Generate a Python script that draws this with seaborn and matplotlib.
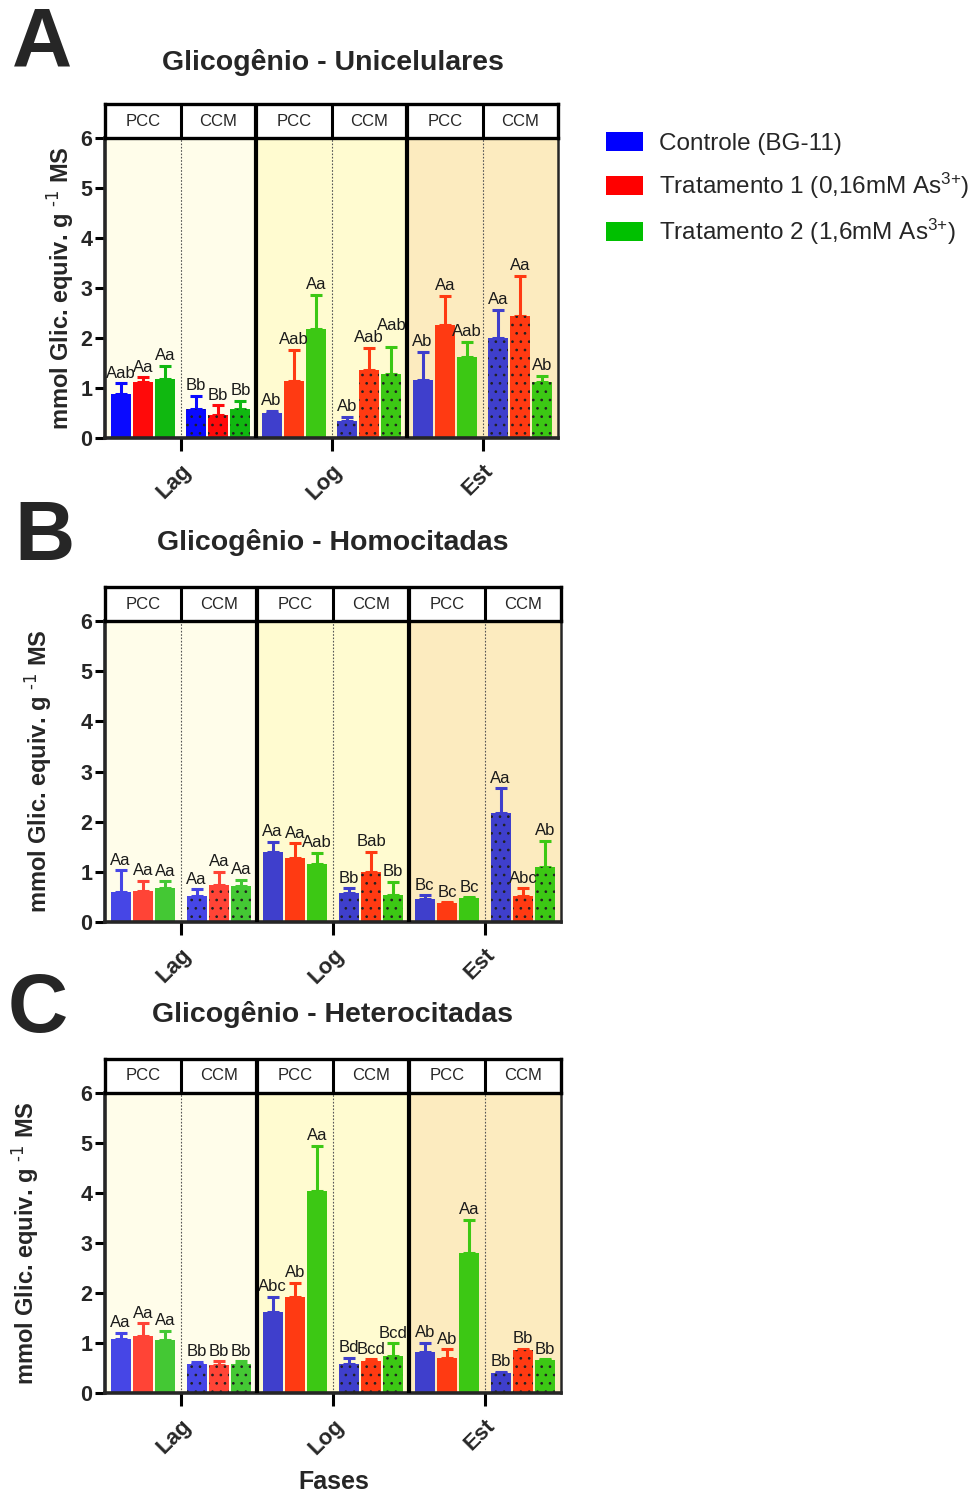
import numpy as np
import pandas as pd
import matplotlib
matplotlib.use("Agg")
import matplotlib.pyplot as plt
import seaborn as sns
from matplotlib.patches import Patch

# ---------------- data ----------------
phases = ["Lag", "Log", "Est"]
conditions = ["PCC", "CCM"]
treatments = ["Controle (BG-11)",
              "Tratamento 1 (0,16mM As$^{3{+}}$)",
              "Tratamento 2 (1,6mM As$^{3{+}}$)"]
titles = ["Glicogênio - Unicelulares", "Glicogênio - Homocitadas", "Glicogênio - Heterocitadas"]
panel_letters = ["A", "B", "C"]
ylabel = r"mmol Glic. equiv. g $^{\text{-1}}$ MS"
xlabel = "Fases"

# order of groups: Lag-PCC, Lag-CCM, Log-PCC, Log-CCM, Est-PCC, Est-CCM ; each [Controle, T1, T2]
A_means = [[0.89, 1.13, 1.18], [0.58, 0.47, 0.58], [0.50, 1.15, 2.19],
           [0.35, 1.37, 1.29], [1.17, 2.27, 1.62], [2.01, 2.45, 1.12]]
A_sd = [[0.21, 0.09, 0.27], [0.27, 0.19, 0.17], [0.05, 0.62, 0.68],
        [0.08, 0.43, 0.53], [0.55, 0.58, 0.31], [0.56, 0.80, 0.13]]
A_labels = [["Aab", "Aa", "Aa"], ["Bb", "Bb", "Bb"], ["Ab", "Aab", "Aa"],
            ["Ab", "Aab", "Aab"], ["Ab", "Aa", "Aab"], ["Aa", "Aa", "Ab"]]

B_means = [[0.59, 0.61, 0.68], [0.51, 0.73, 0.71], [1.39, 1.28, 1.16],
           [0.57, 0.99, 0.54], [0.45, 0.38, 0.47], [2.18, 0.51, 1.10]]
B_sd = [[0.44, 0.21, 0.13], [0.14, 0.27, 0.13], [0.21, 0.29, 0.22],
        [0.10, 0.41, 0.26], [0.08, 0.01, 0.02], [0.49, 0.16, 0.52]]
B_labels = [["Aa", "Aa", "Aa"], ["Aa", "Aa", "Aa"], ["Aa", "Aa", "Aab"],
            ["Bb", "Bab", "Bb"], ["Bc", "Bc", "Bc"], ["Aa", "Abc", "Ab"]]

C_means = [[1.09, 1.15, 1.07], [0.58, 0.56, 0.59], [1.63, 1.92, 4.05],
           [0.59, 0.64, 0.74], [0.83, 0.71, 2.81], [0.41, 0.86, 0.67]]
C_sd = [[0.12, 0.25, 0.18], [0.04, 0.08, 0.05], [0.30, 0.29, 0.89],
        [0.11, 0.04, 0.26], [0.18, 0.17, 0.66], [0.01, 0.03, 0.01]]
C_labels = [["Aa", "Aa", "Aa"], ["Bb", "Bb", "Bb"], ["Abc", "Ab", "Aa"],
            ["Bd", "Bcd", "Bcd"], ["Ab", "Ab", "Aa"], ["Bb", "Bb", "Bb"]]

# ---------------- style ----------------
sns.set_style("ticks")
plt.rcParams["font.family"] = ["Liberation Sans", "DejaVu Sans"]
plt.rcParams["mathtext.default"] = "regular"
plt.rcParams["hatch.linewidth"] = 0.7

legend_colors = ["#0000FF", "#FF0000", "#00C000"]
phase_bg = ["#FFFDEA", "#FFFBD0", "#FCEBBF"]
bar_colors = {
    (0, 0): ["#0A0AFF", "#FF0A0A", "#10B810"],
    (1, 0): ["#4646E6", "#FF4436", "#44C834"],
    (2, 0): ["#4646E6", "#FF4436", "#44C834"],
}
muted = ["#3F3FCC", "#FF3A12", "#3CC814"]

W, H = 968, 1495
fig = plt.figure(figsize=(W / 100, H / 100), dpi=100)
renderer = fig.canvas.get_renderer()

def fx(px):
    return px / W

def fy(py):
    return 1 - py / H

panels = [
    dict(means=A_means, sd=A_sd, labels=A_labels, ax_top=138, ax_bot=438, right=558,
         strip_top=104, title_y=62, letter=(42, 45), ylab_x=60),
    dict(means=B_means, sd=B_sd, labels=B_labels, ax_top=621, ax_bot=922, right=561,
         strip_top=587, title_y=543, letter=(45, 538), ylab_x=38),
    dict(means=C_means, sd=C_sd, labels=C_labels, ax_top=1093, ax_bot=1393, right=561,
         strip_top=1059, title_y=1015, letter=(38, 1010), ylab_x=25),
]

groups = [f"{p}-{c}" for p in phases for c in conditions]

for pi, P in enumerate(panels):
    left = 105
    ax = fig.add_axes([fx(left), fy(P["ax_bot"]), fx(P["right"] - left),
                       (P["ax_bot"] - P["ax_top"]) / H])
    rows = []
    for gi, g in enumerate(groups):
        for ti, t in enumerate(treatments):
            rows.append(dict(grupo=g, tratamento=t, valor=P["means"][gi][ti],
                             sd=P["sd"][gi][ti], rot=P["labels"][gi][ti]))
    df = pd.DataFrame(rows)

    # phase backgrounds
    for k in range(3):
        ax.axvspan(2 * k - 0.5, 2 * k + 1.5, color=phase_bg[k], zorder=0, lw=0)

    sns.barplot(data=df, x="grupo", y="valor", hue="tratamento", order=groups,
                hue_order=treatments, palette=legend_colors, errorbar=None,
                width=0.88, gap=0.1, legend=False, ax=ax, zorder=2)

    ax.set_xlim(-0.5, 5.5)
    ax.set_ylim(0, 6)

    bar_containers = list(ax.containers)[:3]
    label_items = []
    for ti, cont in enumerate(bar_containers):
        for gi, bar in enumerate(cont):
            phase_i = gi // 2
            cols = bar_colors.get((pi, phase_i), muted)
            col = cols[ti]
            bar.set_facecolor(col)
            bar.set_edgecolor("#202020")
            bar.set_linewidth(0)
            if gi % 2 == 1:
                bar.set_hatch("..")
            xc = bar.get_x() + bar.get_width() / 2
            h = bar.get_height()
            e = P["sd"][gi][ti]
            ax.errorbar(xc, h, yerr=[[0], [e]], fmt="none", ecolor=col,
                        elinewidth=2.2, capsize=4.5, capthick=2.2, zorder=1)
            label_items.append((xc, h + e + 0.05, P["labels"][gi][ti]))

    # annotation labels, left to right, nudged up only if they truly collide
    label_items.sort(key=lambda t: t[0])
    placed = []
    for xc, yv, s in label_items:
        t = ax.text(xc, yv, s, ha="center", va="bottom", fontsize=12,
                    color="#1a1a1a", zorder=4)
        for _ in range(20):
            bb = t.get_window_extent(renderer).expanded(0.86, 0.8)
            if any(bb.overlaps(o) for o in placed):
                yv += 0.04
                t.set_y(yv)
            else:
                break
        placed.append(t.get_window_extent(renderer).expanded(0.86, 0.8))

    # separators
    for xs in [1.5, 3.5]:
        ax.axvline(xs, color="black", lw=3, zorder=5)
    for xs in [0.5, 2.5, 4.5]:
        ax.axvline(xs, color="#555555", lw=0.8, ls=(0, (1.5, 1.5)), zorder=1)

    ax.set_yticks(range(0, 7))
    ax.set_yticklabels([str(v) for v in range(0, 7)], fontsize=15.5, fontweight="bold")
    ax.set_xticks([0.5, 2.5, 4.5])
    ax.set_xticklabels(phases, rotation=45, ha="right", rotation_mode="anchor",
                       fontsize=16, fontweight="bold")
    ax.tick_params(axis="both", length=7, width=2.2, color="black", pad=2)
    ax.tick_params(axis="x", length=9, pad=7)
    ax.set_xlabel("")
    ax.set_ylabel("")
    for s in ["left", "bottom"]:
        ax.spines[s].set_linewidth(2.6)
    for s in ["top", "right"]:
        ax.spines[s].set_visible(True)
        ax.spines[s].set_linewidth(1.8)

    # strip header
    sax = fig.add_axes([fx(left), fy(P["ax_top"]), fx(P["right"] - left),
                        (P["ax_top"] - P["strip_top"]) / H])
    sax.set_xlim(-0.5, 5.5)
    sax.set_ylim(0, 1)
    sax.set_xticks([])
    sax.set_yticks([])
    for s in sax.spines.values():
        s.set_linewidth(2.4)
        s.set_color("black")
    for xs in [0.5, 2.5, 4.5]:
        sax.axvline(xs, color="black", lw=2.2)
    for xs in [1.5, 3.5]:
        sax.axvline(xs, color="black", lw=3)
    for gi, g in enumerate(groups):
        sax.text(gi, 0.5, conditions[gi % 2], ha="center", va="center", fontsize=12)

    # titles and labels
    fig.text(fx(333), fy(P["title_y"]), titles[pi], ha="center", va="center",
             fontsize=20.5, fontweight="bold")
    fig.text(fx(P["letter"][0]), fy(P["letter"][1]), panel_letters[pi], ha="center",
             va="center", fontsize=60, fontweight="bold")
    fig.text(fx(P["ylab_x"]), fy((P["ax_top"] + P["ax_bot"]) / 2), ylabel,
             rotation=90, ha="center", va="center", fontsize=17, fontweight="bold")

fig.text(fx(334), fy(1482), xlabel, ha="center", va="center", fontsize=18,
         fontweight="bold")

handles = [Patch(facecolor=c, edgecolor="none") for c in legend_colors]
fig.legend(handles, treatments, loc="upper left", bbox_to_anchor=(fx(596), fy(122)),
           frameon=False, fontsize=17.5, handlelength=1.55, handleheight=0.85,
           labelspacing=0.65, handletextpad=0.65, borderaxespad=0)

fig.savefig("out.png", dpi=100)
